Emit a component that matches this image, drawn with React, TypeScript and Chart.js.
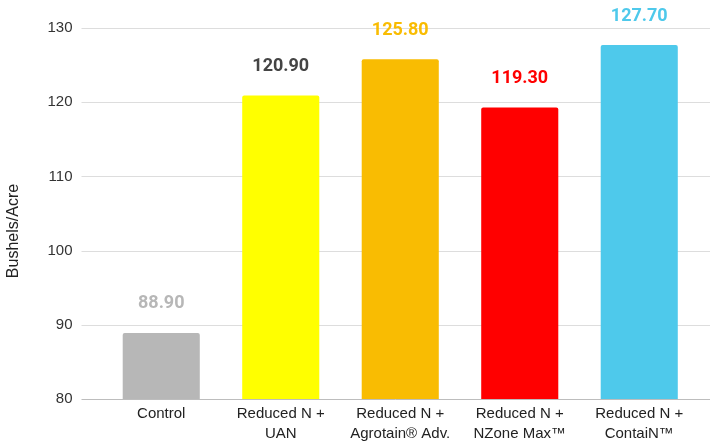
import React, { useEffect, useRef } from "react";
import { Chart, registerables } from "chart.js";

Chart.register(...registerables);

const categories: string[][] = [
  ["Control"],
  ["Reduced N +", "UAN"],
  ["Reduced N +", "Agrotain® Adv."],
  ["Reduced N +", "NZone Max™"],
  ["Reduced N +", "ContaiN™"],
];
const values: number[] = [88.9, 120.9, 125.8, 119.3, 127.7];
const barColors: string[] = ["#b7b7b7", "#ffff00", "#f9bc02", "#ff0000", "#4ec9eb"];
const labelColors: string[] = ["#b7b7b7", "#444444", "#f9bc02", "#ff0000", "#4ec9eb"];
const yMin = 80;
const yMax = 130;
const yStep = 10;
const yTitle = "Bushels/Acre";

const FONT = "Roboto, 'Liberation Sans', Arial, sans-serif";
const AXFONT = "'Liberation Sans', Arial, sans-serif";

const gridPlugin = {
  id: "extGrid",
  beforeDatasetsDraw(chart: any) {
    const { ctx, chartArea, scales } = chart;
    const y = scales.y;
    const x0 = chartArea.left - 20;
    const x1 = chartArea.right + 11;
    ctx.save();
    y.ticks.forEach((t: any) => {
      const py = Math.round(y.getPixelForValue(t.value)) + 0.5;
      ctx.strokeStyle = t.value === yMin ? "#bdbdbd" : "#dddddd";
      ctx.lineWidth = 1;
      ctx.beginPath();
      ctx.moveTo(x0, py);
      ctx.lineTo(x1, py);
      ctx.stroke();
    });
    ctx.restore();
  },
  afterDatasetsDraw(chart: any) {
    const { ctx } = chart;
    const meta = chart.getDatasetMeta(0);
    ctx.save();
    ctx.font = `bold 18px ${FONT}`;
    ctx.textAlign = "center";
    ctx.textBaseline = "middle";
    meta.data.forEach((bar: any, i: number) => {
      ctx.fillStyle = labelColors[i];
      ctx.fillText(values[i].toFixed(2), bar.x, bar.y - 29);
    });
    ctx.translate(14, 231);
    ctx.rotate(-Math.PI / 2);
    ctx.font = `16px ${AXFONT}`;
    ctx.fillStyle = "#222222";
    ctx.fillText(yTitle, 0, 0);
    ctx.restore();
  },
};

export default function App() {
  const ref = useRef<HTMLCanvasElement>(null);
  useEffect(() => {
    if (!ref.current) return;
    const chart = new Chart(ref.current, {
      type: "bar",
      data: {
        labels: categories,
        datasets: [
          {
            data: values,
            backgroundColor: barColors,
            borderRadius: 2,
            borderSkipped: "bottom",
            categoryPercentage: 1,
            barPercentage: 0.645,
          },
        ],
      },
      options: {
        animation: false,
        responsive: false,
        maintainAspectRatio: false,
        layout: { padding: { top: 28, right: 15, left: 0, bottom: 0 } },
        plugins: { legend: { display: false }, tooltip: { enabled: false } },
        scales: {
          x: {
            grid: { display: false, drawTicks: false },
            border: { display: false },
            ticks: {
              color: "#222222",
              font: { family: AXFONT, size: 15, lineHeight: 1.333 },
              padding: 5,
              maxRotation: 0,
              autoSkip: false,
            },
            afterFit(scale: any) {
              scale.height = 43;
              scale.paddingLeft = 0;
              scale.paddingRight = 0;
            },
          },
          y: {
            min: yMin,
            max: yMax,
            grid: { display: false, drawTicks: false },
            border: { display: false },
            ticks: {
              stepSize: yStep,
              color: "#333333",
              font: { family: AXFONT, size: 15 },
              padding: 29,
            },
            afterFit(scale: any) {
              scale.width = 101.5;
              scale.paddingTop = 0;
              scale.paddingBottom = 0;
            },
          },
        },
      },
      plugins: [gridPlugin],
    });
    return () => chart.destroy();
  }, []);
  return (
    <div style={{ position: "absolute", left: 0, top: 0, width: 714, height: 442, background: "#fff" }}>
      <canvas ref={ref} width={714} height={442} style={{ width: 714, height: 442 }} />
    </div>
  );
}
